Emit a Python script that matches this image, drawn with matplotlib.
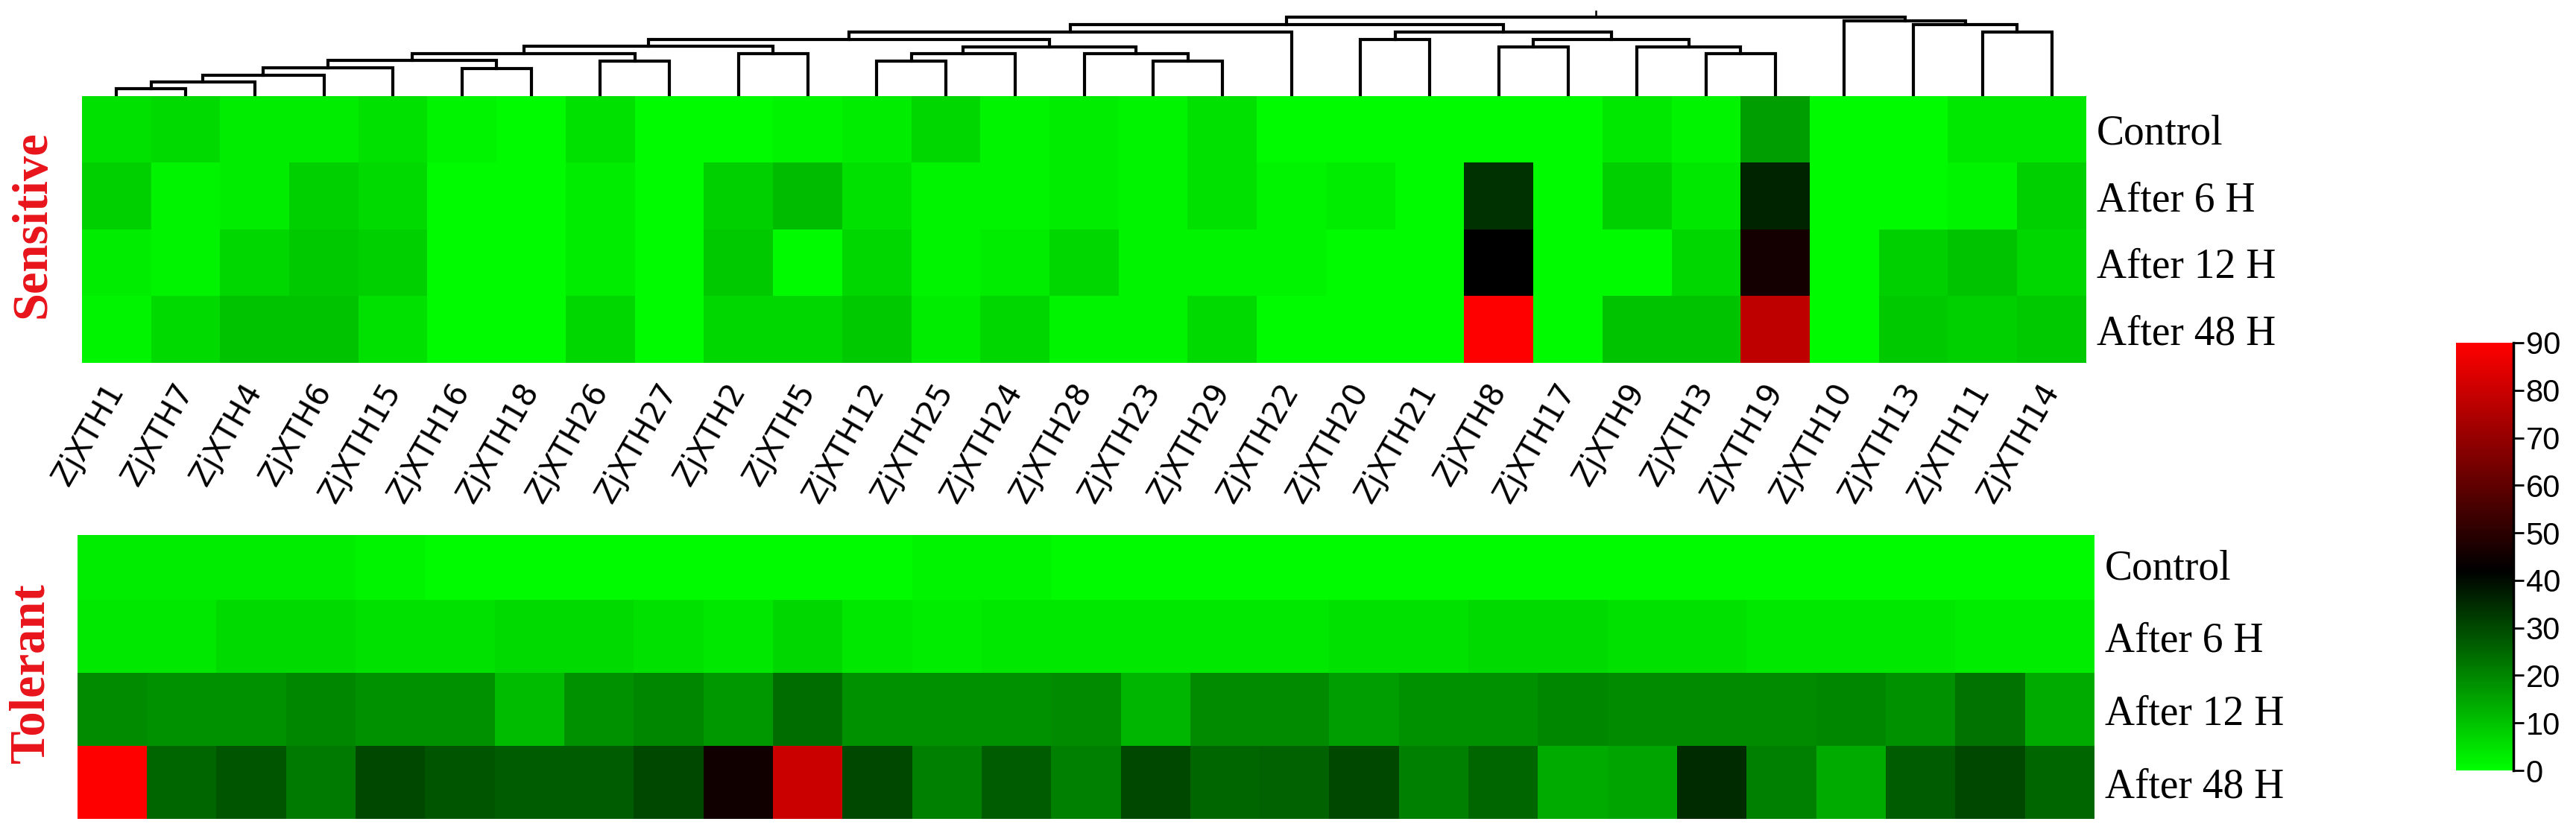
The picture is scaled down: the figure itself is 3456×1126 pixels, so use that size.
import numpy as np
import matplotlib
matplotlib.use("Agg")
import matplotlib.pyplot as plt
from matplotlib.colors import LinearSegmentedColormap

genes = ["ZjXTH1", "ZjXTH7", "ZjXTH4", "ZjXTH6", "ZjXTH15", "ZjXTH16", "ZjXTH18",
         "ZjXTH26", "ZjXTH27", "ZjXTH2", "ZjXTH5", "ZjXTH12", "ZjXTH25", "ZjXTH24",
         "ZjXTH28", "ZjXTH23", "ZjXTH29", "ZjXTH22", "ZjXTH20", "ZjXTH21", "ZjXTH8",
         "ZjXTH17", "ZjXTH9", "ZjXTH3", "ZjXTH19", "ZjXTH10", "ZjXTH13", "ZjXTH11", "ZjXTH14"]
rows = ["Control", "After 6 H", "After 12 H", "After 48 H"]

# sensitive genotype, one list per time point
sens_control = [5, 6, 3, 3, 5, 2, 1, 5, 1, 1, 2, 3, 7, 2, 3, 2, 5, 1, 1, 1, 1, 1, 4, 2, 16, 1, 1, 4, 4]
sens_6h = [8, 2, 3, 8, 6, 1, 1, 3, 1, 8, 11, 5, 2, 2, 3, 2, 5, 2, 3, 1, 34, 1, 8, 4, 36, 1, 1, 2, 8]
sens_12h = [3, 2, 7, 9, 8, 1, 1, 3, 1, 9, 1, 7, 2, 3, 7, 2, 2, 2, 1, 1, 42, 1, 1, 7, 46, 1, 8, 10, 7]
sens_48h = [2, 6, 10, 10, 5, 1, 1, 7, 1, 7, 7, 9, 3, 7, 2, 2, 6, 1, 1, 1, 90, 1, 10, 10, 78, 1, 9, 8, 9]

# tolerant genotype
tol_control = [3, 3, 3, 3, 2, 1, 1, 1, 1, 1, 1, 1, 2, 2, 1, 1, 1, 1, 1, 1, 1, 1, 1, 1, 1, 1, 1, 1, 1]
tol_6h = [4, 4, 6, 6, 5, 5, 6, 6, 5, 4, 7, 4, 3, 4, 4, 4, 4, 4, 5, 5, 6, 6, 5, 5, 4, 4, 4, 3, 3]
tol_12h = [19, 18, 18, 20, 18, 18, 11, 18, 20, 17, 24, 18, 18, 18, 19, 12, 19, 19, 16, 18, 18, 20, 19, 19, 19, 20, 18, 23, 14]
tol_48h = [90, 25, 28, 22, 30, 28, 27, 27, 30, 45, 80, 30, 21, 27, 21, 30, 25, 26, 30, 21, 25, 14, 15, 35, 21, 14, 27, 30, 25]

# dendrogram merges (children: leaf index 0-28 or earlier merge 29+)
merge_left = [0, 29, 30, 31, 5, 32, 7, 34, 9, 36, 11, 39, 15, 14, 40, 38, 44, 18, 20, 23, 22, 47, 46, 45, 27, 26, 25, 52]
merge_right = [1, 2, 3, 4, 6, 33, 8, 35, 10, 37, 12, 13, 16, 41, 42, 43, 17, 19, 21, 24, 48, 49, 50, 51, 28, 53, 54, 55]
merge_height = [10, 19, 28, 38, 37, 48, 47, 57, 57, 67, 47, 57, 47, 57, 66, 76, 86, 76, 66, 57, 66, 76, 86, 96, 86, 96, 101, 106]

sens = np.array([sens_control, sens_6h, sens_12h, sens_48h])
tol = np.array([tol_control, tol_6h, tol_12h, tol_48h])

cmap = LinearSegmentedColormap.from_list("gbr", [(0, "#00ff00"), (42 / 90, "#000000"), (1, "#ff0000")])
serif = "Liberation Serif"

fig = plt.figure(figsize=(34.56, 11.26), dpi=100)
W, H = 3456, 1126

def box(x0, y0, x1, y1):
    return [x0 / W, 1 - y1 / H, (x1 - x0) / W, (y1 - y0) / H]

ax_d = fig.add_axes(box(110, 8, 2799, 129))
ax_s = fig.add_axes(box(110, 129, 2799, 487))
ax_t = fig.add_axes(box(104, 718, 2810, 1099))
cax = fig.add_axes(box(3295, 460, 3372, 1034))

# dendrogram
n = len(genes)
xpos = list(range(n))
hpos = [0] * n
for a, b, h in zip(merge_left, merge_right, merge_height):
    ax_d.plot([xpos[a], xpos[a], xpos[b], xpos[b]], [hpos[a], h, h, hpos[b]],
              color="black", lw=3, solid_joinstyle="miter")
    xpos.append((xpos[a] + xpos[b]) / 2)
    hpos.append(h)
ax_d.plot([xpos[-1], xpos[-1]], [hpos[-1], hpos[-1] + 8], color="black", lw=1.8)
ax_d.set_xlim(-0.5, n - 0.5)
ax_d.set_ylim(0, 121)
ax_d.axis("off")

# heatmaps
im = ax_s.imshow(sens, cmap=cmap, vmin=0, vmax=90, aspect="auto", interpolation="nearest")
ax_t.imshow(tol, cmap=cmap, vmin=0, vmax=90, aspect="auto", interpolation="nearest")
ax_t.set_ylim(3.5, -0.4)

for ax in (ax_s, ax_t):
    for s in ax.spines.values():
        s.set_visible(False)
    ax.yaxis.tick_right()
    ax.set_yticks(range(4))
    ax.set_yticklabels(rows, fontfamily=serif, fontsize=40)
    ax.tick_params(axis="y", length=0, pad=10)

ax_s.set_xticks(range(n))
ax_s.set_xticklabels(genes, rotation=60, ha="right", va="center",
                     rotation_mode="anchor", fontsize=30, fontfamily="DejaVu Sans")
ax_s.tick_params(axis="x", length=0, pad=22)
ax_t.set_xticks([])

fig.text(44 / W, 1 - 301 / H, "Sensitive", rotation=90, ha="center", va="center",
         fontfamily=serif, fontweight="bold", fontsize=48, color="#e8141b")
fig.text(42 / W, 1 - 903 / H, "Tolerant", rotation=90, ha="center", va="center",
         fontfamily=serif, fontweight="bold", fontsize=48, color="#e8141b")

# colour scale
cb = fig.colorbar(im, cax=cax, ticks=range(0, 91, 10))
cb.outline.set_visible(False)
cax.axvline(1, color="black", lw=2.5, clip_on=False)
cax.tick_params(length=10, width=2, pad=2, labelsize=30)
for t in cax.get_yticklabels():
    t.set_fontfamily("Liberation Sans")

fig.savefig("out.png", dpi=100)
